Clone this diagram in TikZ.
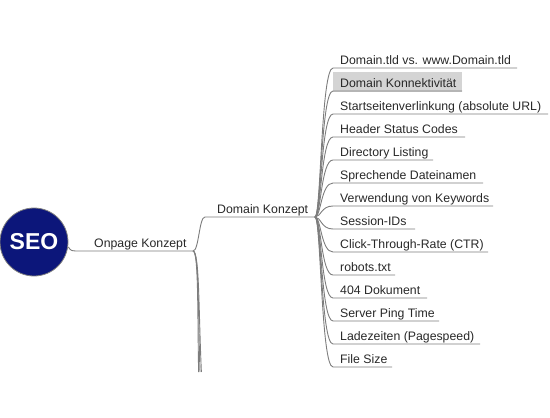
\documentclass[tikz,border=0pt]{standalone}
\usepackage{fontspec}
\setmainfont{Liberation Sans}
\definecolor{seoblue}{RGB}{12,22,122}
\definecolor{linegray}{RGB}{125,125,125}
\definecolor{txtgray}{RGB}{40,40,40}
\definecolor{hlgray}{RGB}{212,212,212}
\begin{document}
\begin{tikzpicture}[x=1pt,y=-1pt,
  conn/.style={draw=linegray,line width=0.9pt},
  leaf/.style={inner sep=0pt,anchor=base west,text=txtgray,font=\fontsize{12.3}{14}\selectfont},
  seonode/.style={circle,fill=seoblue,draw=gray,line width=0.8pt,minimum size=68pt,inner sep=0pt,text=white,font=\fontsize{23}{26}\selectfont\bfseries}]
\useasboundingbox (0,0) rectangle (550,418);
% root
\node[seonode] (seo) at (34,242) {SEO};
% Onpage Konzept
\coordinate (op0) at (80,251);
\coordinate (opj) at (193,251);
\node[leaf] (op) at (94,247) {Onpage Konzept};
\draw[conn] (seo.east) ++(0,5) coordinate (seoout) .. controls (71,251) .. (op0) -- (opj);
% Domain Konzept
\coordinate (dk0) at (205,217);
\coordinate (dkj) at (315,217);
\node[leaf] (dk) at (217,213) {Domain Konzept};
\draw[conn] (opj) .. controls (199,251) and (199,217) .. (dk0) -- (dkj);
% continuing branches below
\coordinate (b1) at (198.6,372);
\coordinate (b2) at (200,372);
\coordinate (b3) at (201.4,372);
\draw[conn] (opj) .. controls (198.5,251) and (197.5,310) .. (b1);
\draw[conn] (opj) .. controls (199,251) and (198,310) .. (b2);
\draw[conn] (opj) .. controls (199.5,251) and (198.5,310) .. (b3);
% highlight box
\fill[hlgray] (333,72) rectangle (462,92);
% leaves
\foreach \n/\y/\xe/\t in {
  1/68/517/{Domain.tld vs. www.Domain.tld},
  2/91/462/{Domain Konnektivität},
  3/114/548/{Startseitenverlinkung (absolute URL)},
  4/137/465/{Header Status Codes},
  5/160/433/{Directory Listing},
  6/183/483/{Sprechende Dateinamen},
  7/206/493/{Verwendung von Keywords},
  8/229/415/{Session-IDs},
  9/252/488/{Click-Through-Rate (CTR)},
  10/275/395/{robots.txt},
  11/298/427/{404 Dokument},
  12/321/439/{Server Ping Time},
  13/344/480/{Ladezeiten (Pagespeed)},
  14/367/392/{File Size}}{
  \coordinate (us\n) at (333,\y);
  \coordinate (ue\n) at (\xe,\y);
  \node[leaf] (c\n) at (340,\y-4) {\t};
  \draw[conn] (dkj) .. controls (321,217) and (321,\y) .. (us\n) -- (ue\n);
}
\end{tikzpicture}
\end{document}
